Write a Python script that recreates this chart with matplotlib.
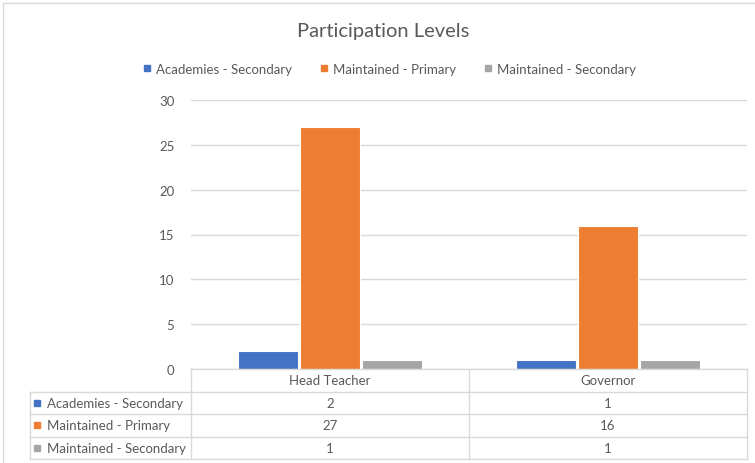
import matplotlib.pyplot as plt
from matplotlib.lines import Line2D
from matplotlib.patches import Rectangle

plt.rcParams['font.family'] = ['Lato', 'DejaVu Sans']

categories = ['Head Teacher', 'Governor']
series_names = ['Academies - Secondary', 'Maintained - Primary', 'Maintained - Secondary']
academies_secondary = [2, 1]
maintained_primary = [27, 16]
maintained_secondary = [1, 1]
series_values = [academies_secondary, maintained_primary, maintained_secondary]
colors = ['#4472C4', '#ED7D31', '#A5A5A5']
y_ticks = [0, 5, 10, 15, 20, 25, 30]

W, H = 755, 464
text_col = '#595959'
grid_col = '#D9D9D9'


def fx(px):
	return px / W


def fy(py):
	return 1 - py / H


fig = plt.figure(figsize=(W / 100, H / 100), dpi=100)

# outer chart frame
fig.patches.append(Rectangle((fx(3), fy(470)), 1, fy(4) - fy(470), transform=fig.transFigure,
	fill=False, edgecolor=grid_col, linewidth=1))

fig.text(fx(383), fy(32), 'Participation Levels', ha='center', va='center', fontsize=14.5, color=text_col)

# main plot
ax = fig.add_axes([fx(191), fy(370), fx(747) - fx(191), fy(101) - fy(370)])
bar_w = 0.215
offsets = [-0.224, 0, 0.224]
centers = [i + 0.5 for i in range(len(categories))]
for vals, off, col in zip(series_values, offsets, colors):
	ax.bar([c + off for c in centers], vals, width=bar_w, color=col, edgecolor='white',
		linewidth=0.8, zorder=3)
ax.set_xlim(0, len(categories))
ax.set_ylim(0, 30)
ax.set_yticks(y_ticks)
ax.yaxis.grid(True, color=grid_col, linewidth=1, zorder=0)
ax.set_xticks([])
ax.tick_params(axis='y', length=0, pad=12, labelsize=9.5, labelcolor=text_col)
for s in ax.spines.values():
	s.set_visible(False)

# legend
handles = [Line2D([], [], marker='s', linestyle='none', markersize=5, color=c) for c in colors]
fig.legend(handles, series_names, loc='center', bbox_to_anchor=(fx(389), fy(70)), ncol=3,
	frameon=False, fontsize=9.5, handletextpad=0.3, columnspacing=2.0, labelcolor=text_col,
	handlelength=0.8)

# data table
tx0 = -(191 - 30) / 278
tab = fig.add_axes([fx(30), fy(460), fx(747) - fx(30), fy(370) - fy(460)])
tab.set_xlim(tx0, len(categories))
tab.set_ylim(len(series_names) + 1, 0)
tab.axis('off')
lw = 1
nrow = len(series_names) + 1
tab.plot([0, len(categories)], [0, 0], color=grid_col, lw=lw, clip_on=False)
for r in range(1, nrow + 1):
	tab.plot([tx0, len(categories)], [r, r], color=grid_col, lw=lw, clip_on=False)
tab.plot([tx0, tx0], [1, nrow], color=grid_col, lw=lw, clip_on=False)
for c in range(len(categories) + 1):
	tab.plot([c, c], [0, nrow], color=grid_col, lw=lw, clip_on=False)
for j, cat in enumerate(categories):
	tab.text(j + 0.5, 0.5, cat, ha='center', va='center', fontsize=9.5, color=text_col)
for i, (name, vals, col) in enumerate(zip(series_names, series_values, colors)):
	y = i + 1.5
	tab.plot([tx0 + 0.025], [y], marker='s', markersize=4.5, color=col, linestyle='none', clip_on=False)
	tab.text(tx0 + 0.06, y, name, ha='left', va='center', fontsize=9.5, color=text_col)
	for j, v in enumerate(vals):
		tab.text(j + 0.5, y, str(v), ha='center', va='center', fontsize=9.5, color=text_col)

fig.savefig('out.png', dpi=100)
